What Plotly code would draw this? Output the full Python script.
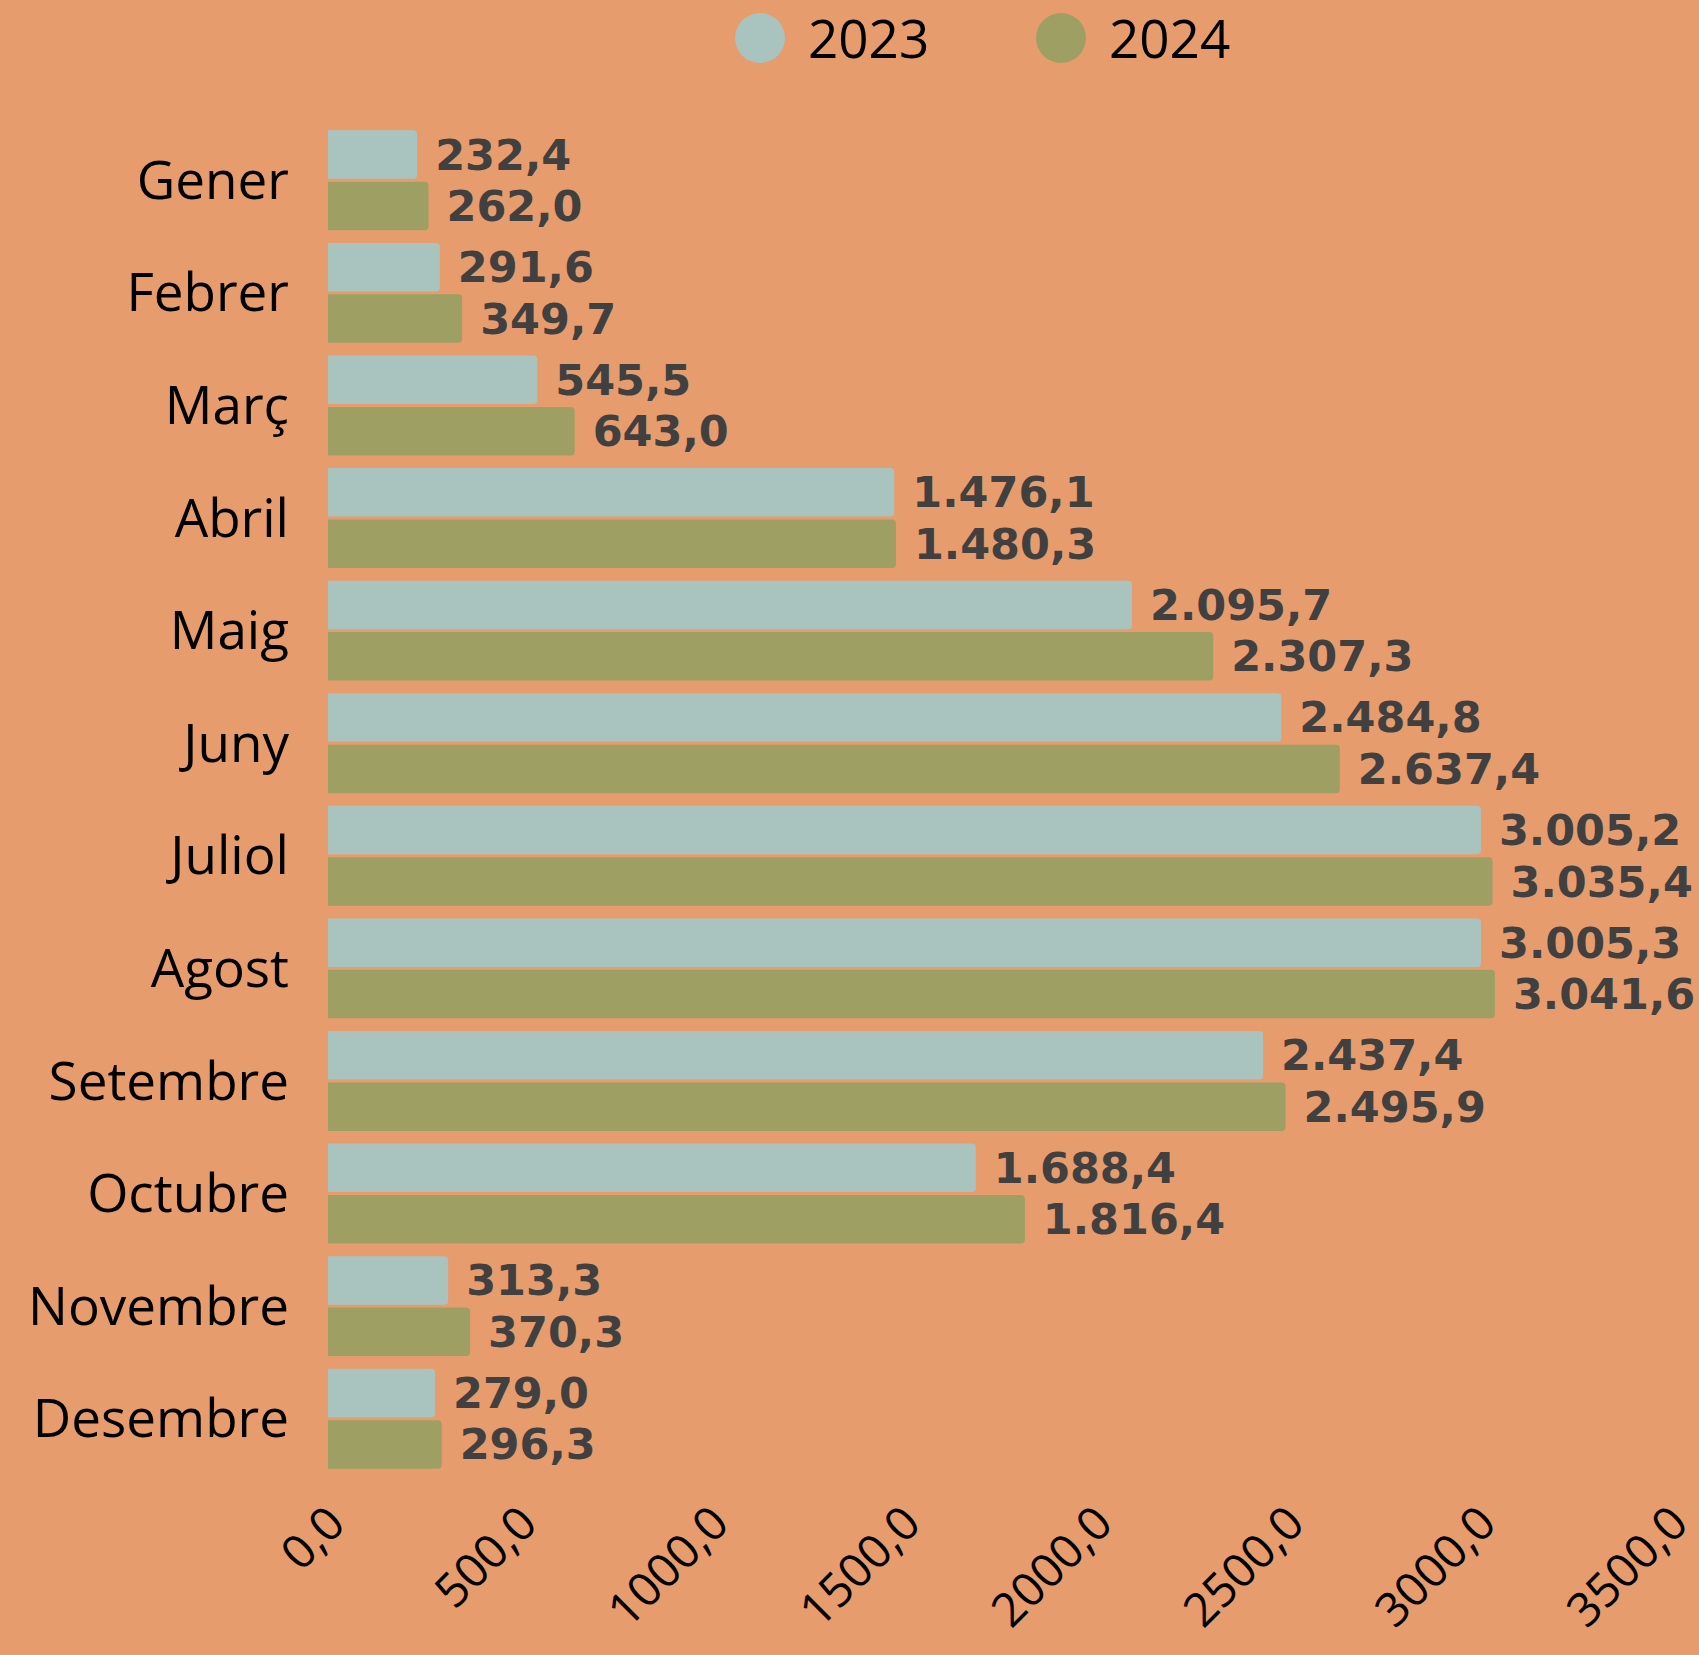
import plotly.graph_objects as go

months = ["Gener", "Febrer", "Març", "Abril", "Maig", "Juny", "Juliol",
          "Agost", "Setembre", "Octubre", "Novembre", "Desembre"]
values_2023 = [232.4, 291.6, 545.5, 1476.1, 2095.7, 2484.8, 3005.2,
               3005.3, 2437.4, 1688.4, 313.3, 279.0]
values_2024 = [262.0, 349.7, 643.0, 1480.3, 2307.3, 2637.4, 3035.4,
               3041.6, 2495.9, 1816.4, 370.3, 296.3]
series_names = ["2023", "2024"]
x_ticks = [0, 500, 1000, 1500, 2000, 2500, 3000, 3500]

BG = "#E79C6E"
C2023 = "#A9C3BF"
C2024 = "#9DA062"
LABEL_C = "#404040"

W, H = 1699, 1655
ML, MR, MT, MB = 328, 28, 124, 180

fig = go.Figure()
for name, vals, col in [(series_names[0], values_2023, C2023),
                        (series_names[1], values_2024, C2024)]:
    fig.add_trace(go.Bar(
        name=name, y=months, x=vals, orientation="h",
        marker=dict(color=col, cornerradius=4, line=dict(width=0)),
        texttemplate=" %{x:,.1f}", textposition="outside",
        textfont=dict(family="DejaVu Sans", size=43, color=LABEL_C, weight="bold"),
        constraintext="none", cliponaxis=False, showlegend=False,
    ))

# legend drawn as circles + text
plot_w = W - ML - MR
plot_h = H - MT - MB
def px_to_paper_x(px):
    return (px - ML) / plot_w
def px_to_paper_y(py):
    return (H - MB - py) / plot_h

legend_items = [(series_names[0], C2023, 760), (series_names[1], C2024, 1061)]
shapes, annos = [], []
for name, col, cx in legend_items:
    shapes.append(dict(type="circle", xref="paper", yref="paper",
                       xsizemode="pixel", ysizemode="pixel",
                       xanchor=px_to_paper_x(cx), yanchor=px_to_paper_y(38),
                       x0=-25, x1=25, y0=-25, y1=25,
                       fillcolor=col, line=dict(width=0)))
    annos.append(dict(text=name, xref="paper", yref="paper",
                      x=px_to_paper_x(cx + 46), y=px_to_paper_y(37),
                      xanchor="left", yanchor="middle", showarrow=False,
                      font=dict(family="Open Sans", size=53, color="black")))

fig.update_layout(
    width=W, height=H,
    margin=dict(l=ML, r=MR, t=MT, b=MB, pad=0, autoexpand=False),
    paper_bgcolor=BG, plot_bgcolor=BG,
    barmode="group", bargap=0.086, bargroupgap=0.058,
    separators=",.",
    shapes=shapes, annotations=annos,
    font=dict(family="Open Sans", color="black"),
)
fig.update_xaxes(range=[0, 3500.5], tickvals=x_ticks, tickformat=".1f",
                 tickangle=-45, showgrid=False, zeroline=False, showline=False,
                 ticks="", ticklabelstandoff=10, ticklabelshift=3,
                 ticklabeloverflow="allow", automargin=False,
                 tickfont=dict(family="Open Sans", size=47, color="black"))
fig.update_yaxes(autorange="reversed", showgrid=False, zeroline=False,
                 showline=False, ticks="", ticklabelstandoff=38, automargin=False,
                 tickfont=dict(family="Open Sans", size=53, color="black"))

fig.write_html("out.html", config={"displayModeBar": False},
               post_script="document.body.style.margin='0';document.body.style.background='" + BG + "';")
